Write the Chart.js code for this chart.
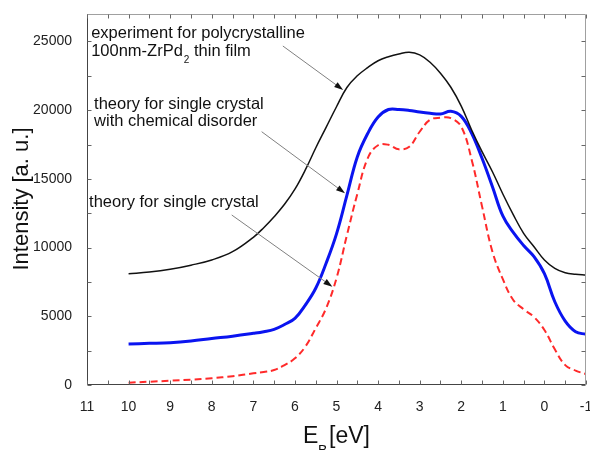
<!DOCTYPE html>
<html>
<head>
<meta charset="utf-8">
<script src="https://cdn.jsdelivr.net/npm/chart.js@4.4.1/dist/chart.umd.min.js"></script>
<style>
    html, body { margin: 0; padding: 0; background: #fff; }
</style>
</head>
<body>
<canvas id="xps-chart" width="590" height="450"></canvas>
<script>
// binding energy grid [eV] and intensities
var energies = [10, 9.5, 9, 8.5, 8, 7.5, 7, 6.75, 6.5, 6.25, 6, 5.75, 5.5, 5.25, 5, 4.75, 4.5, 4.25, 4, 3.75, 3.5, 3.25,
    3, 2.75, 2.5, 2.25, 2, 1.75, 1.5, 1.25, 1, 0.75, 0.5, 0.25, 0, -0.25, -0.5, -0.75, -1];

var experiment = [8100, 8220, 8420, 8720, 9100, 9700, 10750, 11450, 12250, 13150, 14250, 15650, 17250, 18750, 20250, 21650, 22500, 23100, 23600, 23890, 24090, 24210,
    24020, 23490, 22690, 21670, 20300, 18560, 16980, 15520, 13900, 12400, 11040, 10065, 9100, 8490, 8170, 8060, 8000];

var disorder = [2990, 3030, 3080, 3200, 3380, 3550, 3760, 3880, 4050, 4400, 4850, 5820, 7040, 8860, 11000, 13800, 16600, 18300, 19500, 20050, 20050, 19980,
    19870, 19780, 19720, 19920, 19550, 18320, 16500, 14430, 12300, 11100, 10150, 9340, 8100, 6060, 4650, 3880, 3690];

var singleCrystal = [170, 240, 310, 390, 490, 640, 850, 950, 1090, 1450, 1940, 2790, 4130, 5580, 7770, 10900, 13900, 16500, 17450, 17480, 17150, 17340,
    18430, 19300, 19450, 19420, 18800, 16400, 13000, 9700, 7700, 6190, 5510, 4950, 4000, 2600, 1450, 1050, 800];

var xTicks = [11, 10, 9, 8, 7, 6, 5, 4, 3, 2, 1, 0, -1];
var yTicks = [0, 5000, 10000, 15000, 20000, 25000];

var FONT = '"Liberation Sans", Arial, sans-serif';

function points(vals) {
    return energies.map(function (e, i) { return { x: e, y: vals[i] }; });
}

// labels and arrows, placed in data coordinates
var notes = [
    { lines: ['experiment for polycrystalline', '100nm-ZrPd|2| thin film'], x: 10.9, y: [25277, 23944] },
    { lines: ['theory for single crystal', 'with chemical disorder'], x: 10.83, y: [20087, 18850] },
    { lines: ['theory for single crystal'], x: 10.95, y: [12977] }
];
var arrows = [
    { from: [6.29, 24672], to: [4.84, 21470] },
    { from: [6.80, 18435], to: [4.795, 13952] },
    { from: [7.52, 12373], to: [5.10, 7154] }
];

function drawArrow(ctx, x1, y1, x2, y2) {
    var ang = Math.atan2(y2 - y1, x2 - x1);
    ctx.strokeStyle = '#808080';
    ctx.lineWidth = 1;
    ctx.beginPath();
    ctx.moveTo(x1, y1);
    ctx.lineTo(x2 - 6 * Math.cos(ang), y2 - 6 * Math.sin(ang));
    ctx.stroke();
    ctx.fillStyle = '#111';
    ctx.beginPath();
    ctx.moveTo(x2, y2);
    ctx.lineTo(x2 - 9 * Math.cos(ang) + 3 * Math.sin(ang), y2 - 9 * Math.sin(ang) - 3 * Math.cos(ang));
    ctx.lineTo(x2 - 9 * Math.cos(ang) - 3 * Math.sin(ang), y2 - 9 * Math.sin(ang) + 3 * Math.cos(ang));
    ctx.closePath();
    ctx.fill();
}

var decor = {
    id: 'decor',
    afterDatasetsDraw: function (chart) {
        var ctx = chart.ctx, a = chart.chartArea;
        var xs = chart.scales.x, ys = chart.scales.y;
        var L = Math.round(a.left) + 0.5, R = Math.round(a.right) - 0.5;
        var T = Math.round(a.top) + 0.5, B = Math.round(a.bottom) - 0.5;
        ctx.save();

        // frame
        ctx.lineWidth = 1;
        ctx.strokeStyle = '#a0a0a0';
        ctx.beginPath();
        ctx.moveTo(L, T); ctx.lineTo(R, T); ctx.lineTo(R, B);
        ctx.stroke();
        ctx.strokeStyle = '#444';
        ctx.beginPath();
        ctx.moveTo(L, T); ctx.lineTo(L, B); ctx.lineTo(R, B);
        ctx.stroke();

        // inward ticks, every 0.5 eV and every 2500
        ctx.strokeStyle = '#666';
        ctx.beginPath();
        for (var v = -1; v <= 11; v += 0.5) {
            var px = Math.round(xs.getPixelForValue(v)) + 0.5;
            ctx.moveTo(px, B); ctx.lineTo(px, B - 4);
            ctx.moveTo(px, T); ctx.lineTo(px, T + 4);
        }
        for (var w = 0; w <= 25000; w += 2500) {
            var py = Math.round(ys.getPixelForValue(w)) + 0.5;
            ctx.moveTo(L, py); ctx.lineTo(L + 4, py);
            ctx.moveTo(R, py); ctx.lineTo(R - 4, py);
        }
        ctx.stroke();

        // annotations
        ctx.fillStyle = '#111';
        ctx.textAlign = 'left';
        ctx.textBaseline = 'alphabetic';
        notes.forEach(function (n) {
            var x0 = xs.getPixelForValue(n.x);
            n.lines.forEach(function (line, i) {
                var y0 = ys.getPixelForValue(n.y[i]);
                var parts = line.split('|');
                var cx = x0;
                parts.forEach(function (p, k) {
                    if (k % 2 === 1) {
                        ctx.font = '10px ' + FONT;
                        ctx.fillText(p, cx + 1, y0 + 7);
                        cx += ctx.measureText(p).width + 1;
                    } else {
                        ctx.font = '16.5px ' + FONT;
                        ctx.fillText(p, cx, y0);
                        cx += ctx.measureText(p).width;
                    }
                });
            });
        });
        arrows.forEach(function (ar) {
            drawArrow(ctx,
                xs.getPixelForValue(ar.from[0]), ys.getPixelForValue(ar.from[1]),
                xs.getPixelForValue(ar.to[0]), ys.getPixelForValue(ar.to[1]));
        });

        // axis titles
        ctx.fillStyle = '#111';
        ctx.font = '23px ' + FONT;
        ctx.fillText('E', 303, 443);
        ctx.font = '14px ' + FONT;
        ctx.fillText('B', 318, 455);
        ctx.font = '23px ' + FONT;
        ctx.fillText('[eV]', 329, 443);

        ctx.translate(28, 199);
        ctx.rotate(-Math.PI / 2);
        ctx.textAlign = 'center';
        ctx.font = '22px ' + FONT;
        ctx.fillText('Intensity [a. u.]', 0, 0);
        ctx.restore();
    }
};

new Chart(document.getElementById('xps-chart'), {
    type: 'line',
    data: {
        datasets: [{
            label: 'experiment',
            data: points(experiment),
            borderColor: '#111',
            borderWidth: 1.5
        }, {
            label: 'theory, chemical disorder',
            data: points(disorder),
            borderColor: '#0a14f0',
            borderWidth: 3
        }, {
            label: 'theory, single crystal',
            data: points(singleCrystal),
            borderColor: '#ff2a2a',
            borderWidth: 2,
            borderDash: [7, 4]
        }]
    },
    options: {
        responsive: false,
        animation: false,
        devicePixelRatio: 1,
        layout: { padding: { top: 14, right: 4, left: 0, bottom: 0 } },
        elements: {
            point: { radius: 0 },
            line: { tension: 0.4, fill: false }
        },
        plugins: {
            legend: { display: false },
            title: { display: false },
            tooltip: { enabled: false }
        },
        scales: {
            x: {
                type: 'linear',
                reverse: true,
                min: -1,
                max: 11,
                grid: { display: false },
                border: { display: false },
                ticks: {
                    color: '#222',
                    font: { family: FONT, size: 14 },
                    padding: 6,
                    maxRotation: 0,
                    autoSkip: false,
                    callback: function (v) { return String(v); }
                },
                afterBuildTicks: function (s) {
                    s.ticks = xTicks.map(function (v) { return { value: v }; });
                },
                afterFit: function (s) {
                    s.height = 65;
                    s.paddingLeft = 0;
                    s.paddingRight = 0;
                }
            },
            y: {
                min: 0,
                max: 27000,
                grid: { display: false },
                border: { display: false },
                ticks: {
                    color: '#222',
                    font: { family: FONT, size: 14 },
                    padding: 7,
                    autoSkip: false,
                    callback: function (v) { return String(v); }
                },
                afterBuildTicks: function (s) {
                    s.ticks = yTicks.map(function (v) { return { value: v }; });
                },
                afterFit: function (s) {
                    s.width = 87;
                    s.paddingTop = 0;
                    s.paddingBottom = 0;
                }
            }
        }
    },
    plugins: [decor]
});
</script>
</body>
</html>
